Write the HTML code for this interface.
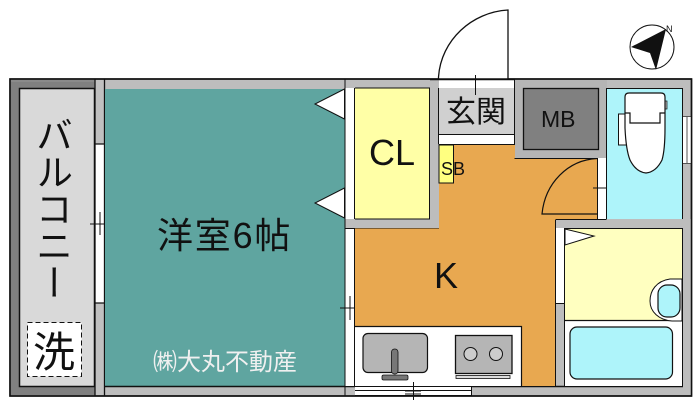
<!DOCTYPE html>
<html lang="ja"><head><meta charset="utf-8"><title>間取り図</title>
<style>html,body{margin:0;padding:0;background:#fff}svg{display:block}text{font-family:"Liberation Sans","Noto Sans CJK JP",sans-serif}</style></head>
<body>
<svg width="700" height="405" viewBox="0 0 700 405" xmlns="http://www.w3.org/2000/svg">
<rect width="700" height="405" fill="#fff"/>
<!-- shell -->
<rect x="10" y="79" width="681.5" height="317" fill="#bdbdbd" stroke="#111" stroke-width="1.5"/>
<rect x="11" y="80" width="84" height="315" fill="#808080"/>
<rect x="19.500" y="88.500" width="75" height="298" fill="#d9d9d9" stroke="#111" stroke-width="1.500"/>
<rect x="11" y="80" width="84" height="2" fill="#8a8a8a"/>
<!-- balcony wall -->
<rect x="95" y="80" width="9" height="315" fill="#c0c0c0"/>
<rect x="95" y="144" width="9" height="159" fill="#fff"/>
<path d="M95 79V396M104.500 79V396M95 144H104M95 303H104" stroke="#111" stroke-width="1.300" fill="none"/>
<path d="M90 224H109M100 212V235" stroke="#111" fill="none"/>
<!-- main room -->
<rect x="105" y="89" width="240" height="297" fill="#5fa5a0"/>
<path d="M105 386.500H692" stroke="#111" stroke-width="1.500"/>
<path d="M344.500 89 315 104 344.500 119Z M344.500 188 315 203 344.500 218Z" fill="#fff" stroke="#111" stroke-width="1"/>
<!-- column between room and CL -->
<rect x="345" y="88" width="10" height="131" fill="#fff"/>
<rect x="345" y="219" width="94" height="9.500" fill="#bdbdbd"/>
<rect x="345" y="228" width="10" height="100" fill="#fff"/>
<rect x="345" y="328" width="10" height="58" fill="#fff"/>
<path d="M345 79V396M354.500 88V219M354.500 228V386" stroke="#111" fill="none"/>
<path d="M340 308H359M350 296V320" stroke="#111" fill="none"/>
<!-- CL -->
<rect x="355" y="88" width="75" height="131" fill="#ffffa6"/>
<path d="M355 88H429.500V219H355M345 228.500H438.500V144" stroke="#111" fill="none"/>
<!-- entry -->
<rect x="430" y="80" width="9" height="148" fill="#bdbdbd"/>
<rect x="439" y="80" width="75" height="8" fill="#fff"/>
<rect x="439" y="88" width="75" height="46" fill="#d0d0d0"/>
<rect x="439" y="135" width="75" height="9" fill="#fff"/>
<path d="M438.500 88V144M438.500 134.500H514M438.500 144.500H514M514.500 79V157" stroke="#111" fill="none"/>
<path d="M438.500 79V77C441 40 472 12 508 10V79" fill="#fff" stroke="#111" stroke-width="1.300"/>
<rect x="439" y="80" width="75" height="8" fill="#fff"/>
<path d="M430 79.500H514" stroke="#111" stroke-width="1.500"/>
<path d="M475.500 75V95" stroke="#111"/>
<!-- kitchen -->
<path d="M439 145H597V220H555.500V386H355V228.500H439Z" fill="#e8a850"/>
<rect x="439" y="145" width="14.500" height="38" fill="#ffff80" stroke="#111" stroke-width="1"/>
<path d="M597 158.500C568 160 545 183 542 214H597" fill="#e8a850" stroke="#111" stroke-width="1.200"/>
<!-- MB block -->
<rect x="515" y="80" width="92" height="78" fill="#b5b5b5"/>
<rect x="523.500" y="88.500" width="75" height="61" fill="#808080" stroke="#111" stroke-width="1.300"/>
<path d="M514.500 158.500H598" stroke="#111" fill="none"/>
<rect x="598" y="158" width="9" height="61" fill="#fff"/>
<path d="M597.500 158V220M606.500 88V219" stroke="#111" fill="none"/>
<path d="M593 188H612" stroke="#111"/>
<!-- toilet room -->
<rect x="607" y="88" width="76" height="131" fill="#aef4fa"/>
<path d="M607 88.500H682.500V219" stroke="#111" fill="none"/>
<rect x="683" y="116" width="8" height="48" fill="#fff"/>
<path d="M683 116.500H691M683 163.500H691M687 116V164" stroke="#555" fill="none"/>
<rect x="618.500" y="114" width="11" height="31" fill="#fff" stroke="#111"/>
<rect x="664" y="101" width="3" height="8" fill="#bbb" stroke="#111" stroke-width=".7"/>
<path d="M625 128V97Q625 93 629 93H661Q665 93 665 97V128Q665 150 662 160Q656 172 646 173Q636 172 630 160Q626 150 625 128Z" fill="#fff" stroke="#111" stroke-width="1.200"/>
<path d="M625 113H630V123H660V113H665" fill="none" stroke="#111" stroke-width="1.200"/>
<!-- wash room -->
<rect x="556" y="220" width="136" height="8.500" fill="#bdbdbd"/>
<rect x="683" y="219" width="8" height="176" fill="#bdbdbd"/>
<rect x="556" y="228" width="9" height="75" fill="#fff"/>
<path d="M555.500 219.500H606.500M555.500 220V386M564.500 228V386M556 303.500H564M564 228.500H682.500V386.500" stroke="#111" fill="none"/>
<rect x="565" y="229" width="117" height="91" fill="#ffffc0"/>
<rect x="565" y="321" width="117" height="65" fill="#fff"/>
<path d="M565 320.500H682.500" stroke="#111" stroke-width="1.200"/>
<path d="M565 229 594 236 565 245Z" fill="#fff" stroke="#111"/>
<path d="M682 279H670C656 281 650 291 650 301C650 312 659 320 672 321H682Z" fill="#fff" stroke="#111"/>
<rect x="658" y="285" width="22" height="32" rx="9" fill="#aef4fa" stroke="#111" stroke-width="1.200"/>
<rect x="570" y="327" width="102.500" height="52" rx="7" fill="#aef4fa" stroke="#111" stroke-width="1.200"/>
<!-- kitchen unit -->
<rect x="355" y="326" width="166.500" height="60" fill="#fff"/>
<path d="M355 326.500H521.500V386" stroke="#111" stroke-width="1.200" fill="none"/>
<rect x="363" y="333.500" width="64.500" height="39" rx="5" fill="#b5b5b5" stroke="#111" stroke-width="1.200"/>
<rect x="391.500" y="349" width="6.500" height="25" rx="3" fill="#777" stroke="#111" stroke-width=".8"/>
<rect x="382" y="375" width="26" height="5" rx="1.500" fill="#777" stroke="#111" stroke-width=".8"/>
<rect x="455.500" y="335.500" width="56.500" height="38" fill="#b5b5b5" stroke="#111" stroke-width="1.300"/>
<circle cx="470.500" cy="354" r="6.500" fill="#ccc" stroke="#111"/>
<circle cx="496" cy="354" r="6.500" fill="#ccc" stroke="#111"/>
<rect x="456" y="375.500" width="54" height="3" fill="#ddd" stroke="#111" stroke-width=".8"/>
<!-- bottom wall -->
<rect x="355" y="387" width="116" height="9" fill="#fff"/>
<path d="M355 390.500H471M471.500 387V396M355 395.500H471" stroke="#111" stroke-width="1" fill="none"/>
<path d="M405 391H421M405 394H421M413.500 382V400" stroke="#111" fill="none"/>
<!-- outer edge -->
<rect x="10" y="79" width="681.500" height="317" fill="none" stroke="#111" stroke-width="1.500"/>
<!-- compass -->
<circle cx="652" cy="47" r="22" fill="#fff" stroke="#111" stroke-width="1"/>
<path d="M666 29 631 47 650 53 656 70Z" fill="#111"/>
<text x="666" y="32" font-size="9" fill="#111">N</text>
<!-- labels -->
<text x="51" y="116" font-size="37" fill="#111" style="writing-mode:vertical-rl;text-orientation:upright">バルコニー</text>
<rect x="27.500" y="322.500" width="54" height="54" fill="#fff" stroke="#111" stroke-dasharray="5 3"/>
<text x="54" y="367" font-size="42" fill="#111" text-anchor="middle">洗</text>
<text x="157" y="248" font-size="36" fill="#111" letter-spacing="1.800">洋室6帖</text>
<text x="153" y="370" font-size="24" fill="#f0f0f0">㈱大丸不動産</text>
<text x="369" y="165" font-size="36" fill="#111">CL</text>
<text x="446" y="122" font-size="30" fill="#111">玄関</text>
<text x="541" y="127" font-size="23" fill="#111">MB</text>
<text x="441" y="175" font-size="18" fill="#111">SB</text>
<text x="434" y="288" font-size="36" fill="#111">K</text>
</svg>
</body></html>
